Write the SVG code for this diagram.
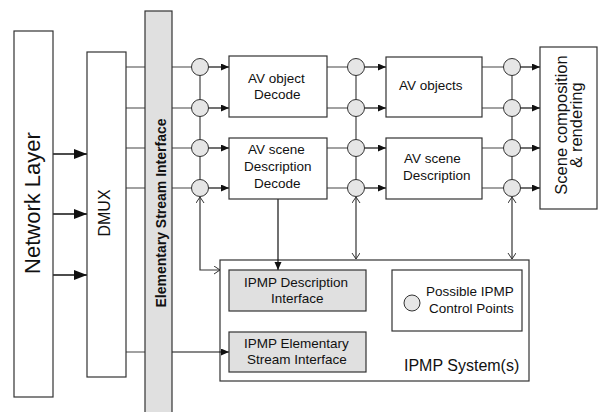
<svg xmlns="http://www.w3.org/2000/svg" width="599" height="412" viewBox="0 0 599 412">
<style>
.box{fill:#fff;stroke:#333;stroke-width:1.2}
.frame{fill:none;stroke:#333;stroke-width:1.2}
.gbox{fill:#e0e0e0;stroke:#333;stroke-width:1.2}
.cp{fill:#e6e6e6;stroke:#333;stroke-width:1}
.ln{fill:none;stroke:#444;stroke-width:1.2}
.ar{fill:none;stroke:#111;stroke-width:1.2;marker-end:url(#fa)}
.big{fill:none;stroke:#111;stroke-width:1.5;marker-end:url(#ba)}
.dbl{fill:none;stroke:#333;stroke-width:1.2;marker-start:url(#oa);marker-end:url(#oa)}
text{font-family:"Liberation Sans",Arial,sans-serif;fill:#111}
.t{font-size:13.5px}
</style>
<defs>
<marker id="fa" markerUnits="userSpaceOnUse" markerWidth="9" markerHeight="8" refX="8" refY="3.5" orient="auto"><path d="M0,0 L8,3.5 L0,7 z" fill="#111"/></marker>
<marker id="ba" markerUnits="userSpaceOnUse" markerWidth="14" markerHeight="12" refX="13" refY="5" orient="auto"><path d="M0,0 L13,5 L0,10 z" fill="#111"/></marker>
<marker id="oa" markerUnits="userSpaceOnUse" markerWidth="8" markerHeight="10" refX="6" refY="4" orient="auto-start-reverse"><path d="M0,0 L6,4 L0,8" fill="none" stroke="#333" stroke-width="1"/></marker>
</defs>

<g id="ipmp-system">
<rect class="frame" x="220" y="260" width="309" height="121"/>
<text x="404" y="371" font-size="16">IPMP System(s)</text>
</g>

<g id="connectors">
<line class="big" x1="53" y1="154" x2="87" y2="154"/>
<line class="big" x1="53" y1="214" x2="87" y2="214"/>
<line class="big" x1="53" y1="275" x2="87" y2="275"/>
<path class="ln" d="M126,67H145M172,67H192M126,108H145M172,108H192M126,148H145M172,148H192M126,188H145M172,188H192M126,352H145"/>
<line class="ar" x1="172" y1="352" x2="229" y2="352"/>
<path class="ln" d="M200,67V188M356,67V188M512,67V188"/>
<line class="ar" x1="208" y1="67" x2="229" y2="67"/>
<line class="ar" x1="208" y1="108" x2="229" y2="108"/>
<line class="ar" x1="208" y1="148" x2="229" y2="148"/>
<line class="ar" x1="208" y1="188" x2="229" y2="188"/>
<path class="ln" d="M327,67H348M327,108H348M327,148H348M327,188H348"/>
<line class="ar" x1="364" y1="67" x2="386" y2="67"/>
<line class="ar" x1="364" y1="108" x2="386" y2="108"/>
<line class="ar" x1="364" y1="148" x2="386" y2="148"/>
<line class="ar" x1="364" y1="188" x2="386" y2="188"/>
<path class="ln" d="M482,67H504M482,108H504M482,148H504M482,188H504"/>
<line class="ar" x1="520" y1="67" x2="540" y2="67"/>
<line class="ar" x1="520" y1="108" x2="540" y2="108"/>
<line class="ar" x1="520" y1="148" x2="540" y2="148"/>
<line class="ar" x1="520" y1="188" x2="540" y2="188"/>
<path class="dbl" d="M200,197V270H220"/>
<line class="dbl" x1="356" y1="197" x2="356" y2="259"/>
<line class="dbl" x1="512" y1="197" x2="512" y2="259"/>
<line class="ar" x1="278" y1="199" x2="278" y2="270"/>
</g>

<g id="network-layer">
<rect class="box" x="14" y="31" width="39" height="366"/>
<text transform="translate(40,203) rotate(-90)" text-anchor="middle" font-size="22">Network Layer</text>
</g>
<g id="dmux">
<rect class="box" x="87" y="52" width="39" height="325"/>
<text transform="translate(110,213) rotate(-90)" text-anchor="middle" font-size="16">DMUX</text>
</g>
<g id="es-interface">
<rect class="gbox" x="145" y="11" width="27" height="410"/>
<text transform="translate(166,213) rotate(-90)" text-anchor="middle" font-size="14" font-weight="bold">Elementary Stream Interface</text>
</g>

<g id="cp-col1">
<circle class="cp" cx="200" cy="67" r="8.5"/><circle class="cp" cx="200" cy="108" r="8.5"/><circle class="cp" cx="200" cy="148" r="8.5"/><circle class="cp" cx="200" cy="188" r="8.5"/>
</g>
<g id="cp-col2">
<circle class="cp" cx="356" cy="67" r="8.5"/><circle class="cp" cx="356" cy="108" r="8.5"/><circle class="cp" cx="356" cy="148" r="8.5"/><circle class="cp" cx="356" cy="188" r="8.5"/>
</g>
<g id="cp-col3">
<circle class="cp" cx="512" cy="67" r="8.5"/><circle class="cp" cx="512" cy="108" r="8.5"/><circle class="cp" cx="512" cy="148" r="8.5"/><circle class="cp" cx="512" cy="188" r="8.5"/>
</g>

<g id="av-object-decode">
<rect class="box" x="229" y="56" width="98" height="61"/>
<text class="t" x="248" y="83">AV object</text>
<text class="t" x="254" y="99">Decode</text>
</g>
<g id="av-scene-decode">
<rect class="box" x="229" y="138" width="98" height="61"/>
<text class="t" x="248" y="154">AV scene</text>
<text class="t" x="244" y="171">Description</text>
<text class="t" x="254" y="188">Decode</text>
</g>
<g id="av-objects">
<rect class="box" x="386" y="57" width="96" height="60"/>
<text class="t" x="399" y="90">AV objects</text>
</g>
<g id="av-scene-description">
<rect class="box" x="386" y="138" width="96" height="61"/>
<text class="t" x="404" y="163">AV scene</text>
<text class="t" x="403" y="180">Description</text>
</g>
<g id="scene-composition">
<rect class="box" x="540" y="47" width="57" height="162"/>
<text transform="translate(567,125) rotate(-90)" text-anchor="middle" font-size="16.5">Scene composition</text>
<text transform="translate(582,125) rotate(-90)" text-anchor="middle" font-size="16.5">&amp; rendering</text>
</g>

<g id="ipmp-description-interface">
<rect class="gbox" x="229" y="270" width="137" height="41"/>
<text class="t" x="244" y="287">IPMP Description</text>
<text class="t" x="271" y="303">Interface</text>
</g>
<g id="ipmp-es-interface">
<rect class="gbox" x="229" y="332" width="137" height="40"/>
<text class="t" x="244" y="348">IPMP Elementary</text>
<text class="t" x="247" y="364">Stream Interface</text>
</g>
<g id="legend">
<rect class="box" x="392" y="270" width="130" height="61"/>
<circle class="cp" cx="412" cy="303" r="8"/>
<text class="t" x="426" y="296">Possible IPMP</text>
<text class="t" x="429" y="313">Control Points</text>
</g>
</svg>
